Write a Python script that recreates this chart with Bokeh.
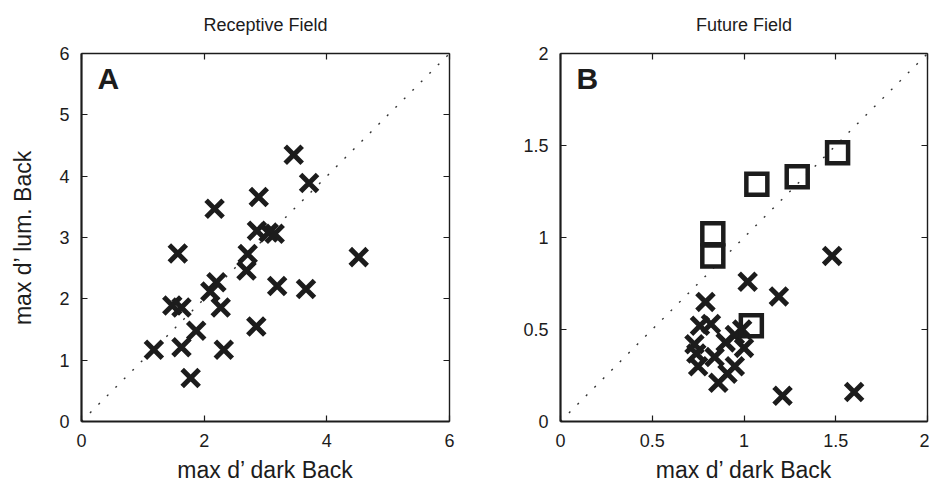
from bokeh.plotting import figure
from bokeh.layouts import row
from bokeh.models import Range1d, LinearAxis, FixedTicker, Label, CustomJSTickFormatter
from bokeh.embed import file_html
from bokeh.resources import INLINE

# ---- Panel A: Receptive Field ----
rf_dark = [3.46, 3.71, 2.89, 2.17, 2.86, 3.05, 3.15, 1.57, 2.71, 4.52, 2.69, 3.19,
           3.66, 2.20, 2.10, 1.48, 1.63, 2.27, 1.87, 2.85, 1.18, 1.63, 2.32, 1.78]
rf_lum = [4.35, 3.89, 3.66, 3.47, 3.11, 3.08, 3.06, 2.74, 2.73, 2.68, 2.46, 2.21,
          2.16, 2.27, 2.12, 1.89, 1.86, 1.86, 1.48, 1.55, 1.17, 1.21, 1.17, 0.71]

# ---- Panel B: Future Field ----
ff_x_dark = [1.48, 1.02, 1.19, 0.79, 0.76, 0.82, 0.73, 0.74, 0.75, 0.84, 0.90,
             0.95, 0.99, 1.00, 0.95, 0.91, 0.86, 1.21, 1.60]
ff_x_lum = [0.90, 0.76, 0.68, 0.65, 0.52, 0.53, 0.42, 0.37, 0.30, 0.35, 0.43,
            0.47, 0.50, 0.40, 0.30, 0.26, 0.21, 0.14, 0.16]
ff_sq_dark = [1.51, 1.29, 1.07, 0.83, 0.83, 1.04]
ff_sq_lum = [1.46, 1.33, 1.29, 1.02, 0.90, 0.52]

rf_ticks_x = [0, 2, 4, 6]
rf_ticks_y = [0, 1, 2, 3, 4, 5, 6]
ff_ticks = [0, 0.5, 1, 1.5, 2]

FONT = "Liberation Sans"
INK = "#1c1c1c"
FRAME = 368


def style_axis(ax, ticks, width, labels=True):
    ax.ticker = FixedTicker(ticks=ticks)
    ax.axis_line_color = INK
    ax.axis_line_width = width
    ax.major_tick_in = 6
    ax.major_tick_out = 0
    ax.major_tick_line_color = INK
    ax.major_tick_line_width = 1.2
    ax.minor_tick_line_color = None
    ax.major_label_text_font = FONT
    ax.major_label_text_font_size = "18px"
    ax.major_label_text_color = INK
    ax.axis_label_text_font = FONT
    ax.axis_label_text_font_size = "23px"
    ax.axis_label_text_font_style = "normal"
    ax.axis_label_text_color = INK
    if not labels:
        ax.formatter = CustomJSTickFormatter(code="return ''")
        ax.major_label_standoff = 0
        ax.major_label_text_font_size = "1px"


def make_panel(title, letter, lo, hi, xt, yt, left_border, fw, right_border, ylabel):
    p = figure(frame_width=fw, frame_height=FRAME,
               x_range=Range1d(lo, hi), y_range=Range1d(lo, hi),
               output_backend="svg", toolbar_location=None,
               min_border_left=left_border, min_border_right=right_border,
               min_border_top=53, min_border_bottom=74)
    p.grid.visible = False
    p.outline_line_color = None
    p.background_fill_color = "white"
    p.border_fill_color = "white"
    style_axis(p.xaxis[0], xt, 2.2)
    style_axis(p.yaxis[0], yt, 2.2)
    p.xaxis[0].axis_label = "max d\u2019 dark Back"
    p.xaxis[0].major_label_standoff = 12
    p.xaxis[0].axis_label_standoff = 7
    p.yaxis[0].major_label_standoff = 12
    if ylabel:
        p.yaxis[0].axis_label = ylabel
        p.yaxis[0].axis_label_standoff = 20
    # top axis: ticks only, carries the panel title as its label
    top = LinearAxis()
    style_axis(top, xt, 1.4, labels=False)
    top.axis_label = title
    top.axis_label_text_font_size = "18px"
    top.axis_label_standoff = 19
    p.add_layout(top, "above")
    rgt = LinearAxis()
    style_axis(rgt, yt, 1.4, labels=False)
    p.add_layout(rgt, "right")
    p.line([lo, hi], [lo, hi], line_color="#333333", line_width=1.4,
           line_dash="2 10")
    ppu = FRAME / (hi - lo)
    # panel letter in the top-left corner
    p.add_layout(Label(x=lo + 16 / ppu, y=hi - 25 / ppu, text=letter,
                       text_font=FONT, text_font_size="30px",
                       text_font_style="bold", text_color=INK,
                       text_baseline="alphabetic"))
    return p


p1 = make_panel("Receptive Field", "A", 0, 6, rf_ticks_x, rf_ticks_y, 81, 368, 18,
                "max d\u2019 lum. Back")
p1.scatter(rf_dark, rf_lum, marker="x", size=24, line_width=5,
           line_color=INK)

p2 = make_panel("Future Field", "B", 0, 2, ff_ticks, ff_ticks, 93, 367, 2, None)
p2.scatter(ff_x_dark, ff_x_lum, marker="x", size=24, line_width=5,
           line_color=INK)
p2.scatter(ff_sq_dark, ff_sq_lum, marker="square", size=21, line_width=4.5,
           line_color=INK, fill_color=None, line_join="miter")

layout = row(p1, p2, spacing=0)
open("out.html", "w").write(file_html(layout, INLINE))
